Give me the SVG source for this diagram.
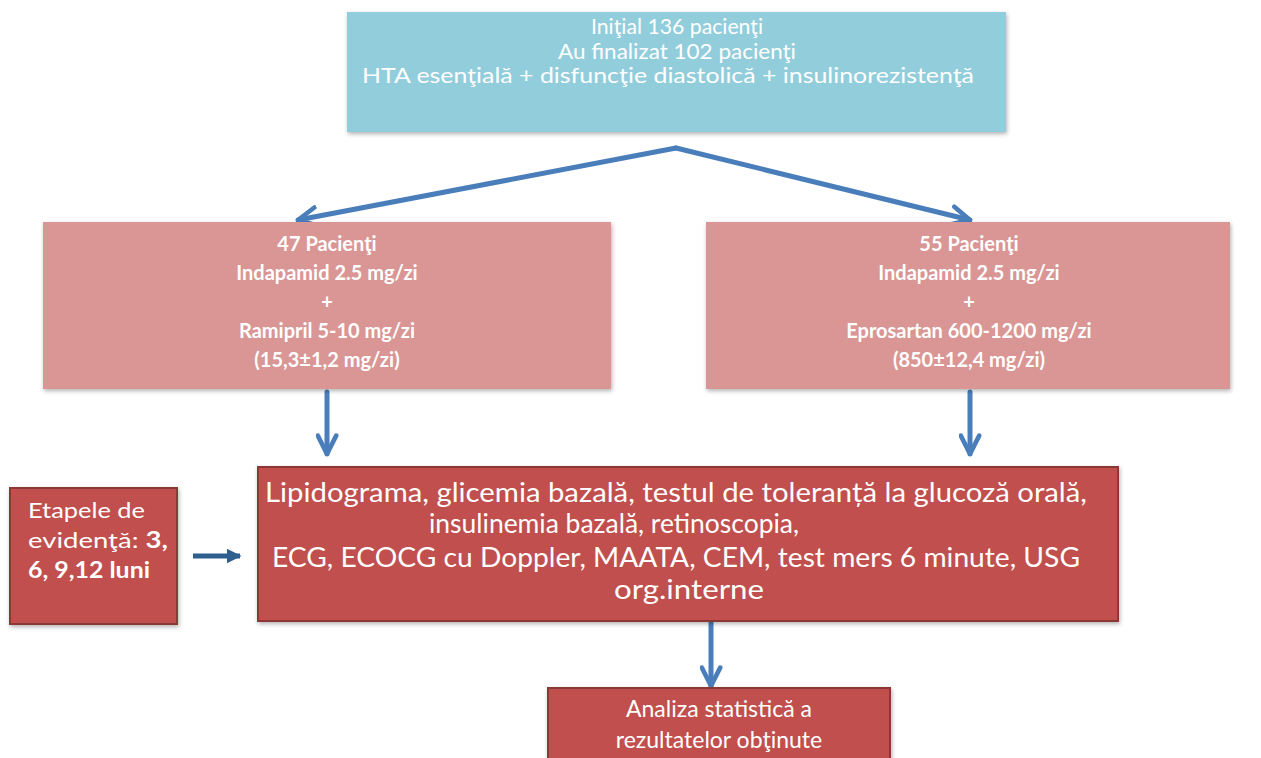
<svg xmlns="http://www.w3.org/2000/svg" width="1261" height="758" viewBox="0 0 1261 758">
<style>
text{font-family:Lato,"Open Sans","Liberation Sans",sans-serif;fill:#fff;}
.t1{font-size:21px;text-anchor:middle;}
.t2{font-size:20px;font-weight:bold;text-anchor:middle;}
.t3{font-size:26px;text-anchor:middle;}
.t5{font-size:23px;text-anchor:middle;}
.t4{font-size:22px;}
.blue{fill:#92CDDC;}
.pink{fill:#D99694;}
.red{fill:#C0504D;stroke:#8C3836;stroke-width:2;}
.arr{stroke:#4A7EBB;stroke-width:5;fill:none;stroke-linecap:round;stroke-linejoin:round;}
</style>
<defs>
<filter id="sh" x="-5%" y="-5%" width="110%" height="115%">
<feDropShadow dx="1" dy="2" stdDeviation="2" flood-color="#000" flood-opacity="0.3"/>
</filter>
<marker id="chev" viewBox="0 0 10 10" refX="9" refY="5" markerWidth="4.6" markerHeight="4.6" markerUnits="strokeWidth" orient="auto">
<path d="M1,1 L9,5 L1,9" fill="none" stroke="#4A7EBB" stroke-width="2" stroke-linecap="round" stroke-linejoin="round"/>
</marker>
<marker id="tri" viewBox="0 0 10 10" refX="9" refY="5" markerWidth="3" markerHeight="3" markerUnits="strokeWidth" orient="auto">
<path d="M0,0 L10,5 L0,10 Z" fill="#2F5F8F"/>
</marker>
</defs>
<rect width="1261" height="758" fill="#fff"/>

<g id="connectors">
<path class="arr" d="M676,148 L298,220" marker-end="url(#chev)"/>
<path class="arr" d="M676,148 L970,220" marker-end="url(#chev)"/>
<path class="arr" d="M327,392 L327,454" marker-end="url(#chev)"/>
<path class="arr" d="M970,392 L970,454" marker-end="url(#chev)"/>
<path class="arr" d="M711,623 L711,686" marker-end="url(#chev)"/>
<path d="M193,556 L240,556" stroke="#2F5F8F" stroke-width="5" fill="none" marker-end="url(#tri)"/>
</g>

<g id="top">
<rect class="blue" x="347" y="12" width="659" height="120" filter="url(#sh)"/>
<text class="t1" x="677" y="34" textLength="172" lengthAdjust="spacingAndGlyphs">Iniţial 136 pacienţi</text>
<text class="t1" x="677" y="59" textLength="238" lengthAdjust="spacingAndGlyphs">Au finalizat 102 pacienţi</text>
<text class="t1" x="668" y="83" textLength="612" lengthAdjust="spacingAndGlyphs">HTA esenţială + disfuncţie diastolică + insulinorezistenţă</text>
</g>

<g id="left">
<rect class="pink" x="43" y="222" width="568" height="167" filter="url(#sh)"/>
<text class="t2" x="327" y="251">47 Pacienţi</text>
<text class="t2" x="327" y="280">Indapamid 2.5 mg/zi</text>
<text class="t2" x="327" y="309">+</text>
<text class="t2" x="327" y="338">Ramipril 5-10 mg/zi</text>
<text class="t2" x="327" y="367">(15,3±1,2 mg/zi)</text>
</g>

<g id="right">
<rect class="pink" x="706" y="222" width="524" height="167" filter="url(#sh)"/>
<text class="t2" x="969" y="251">55 Pacienţi</text>
<text class="t2" x="969" y="280">Indapamid 2.5 mg/zi</text>
<text class="t2" x="969" y="309">+</text>
<text class="t2" x="969" y="338">Eprosartan 600-1200 mg/zi</text>
<text class="t2" x="969" y="367">(850±12,4 mg/zi)</text>
</g>

<g id="stages">
<rect class="red" x="10" y="488" width="167" height="136" filter="url(#sh)"/>
<text class="t4" x="28" y="518" textLength="117" lengthAdjust="spacingAndGlyphs">Etapele de</text>
<text class="t4" x="28" y="548" textLength="140" lengthAdjust="spacingAndGlyphs">evidenţă: <tspan font-weight="bold">3,</tspan></text>
<text class="t4" x="28" y="578" font-weight="bold" textLength="122" lengthAdjust="spacingAndGlyphs">6, 9,12 luni</text>
</g>

<g id="tests">
<rect class="red" x="258" y="467" width="860" height="154" filter="url(#sh)"/>
<text class="t3" x="676" y="502" textLength="822" lengthAdjust="spacingAndGlyphs">Lipidograma, glicemia bazală, testul de toleranță la glucoză orală,</text>
<text class="t3" x="614" y="533" textLength="370" lengthAdjust="spacingAndGlyphs">insulinemia bazală, retinoscopia,</text>
<text class="t3" x="676" y="567" textLength="808" lengthAdjust="spacingAndGlyphs">ECG, ECOCG cu Doppler, MAATA, CEM, test mers 6 minute, USG</text>
<text class="t3" x="689" y="599" textLength="150" lengthAdjust="spacingAndGlyphs">org.interne</text>
</g>

<g id="analysis">
<rect class="red" x="548" y="688" width="342" height="80" filter="url(#sh)"/>
<text class="t5" x="719" y="717">Analiza statistică a</text>
<text class="t5" x="719" y="748">rezultatelor obţinute</text>
</g>
</svg>
